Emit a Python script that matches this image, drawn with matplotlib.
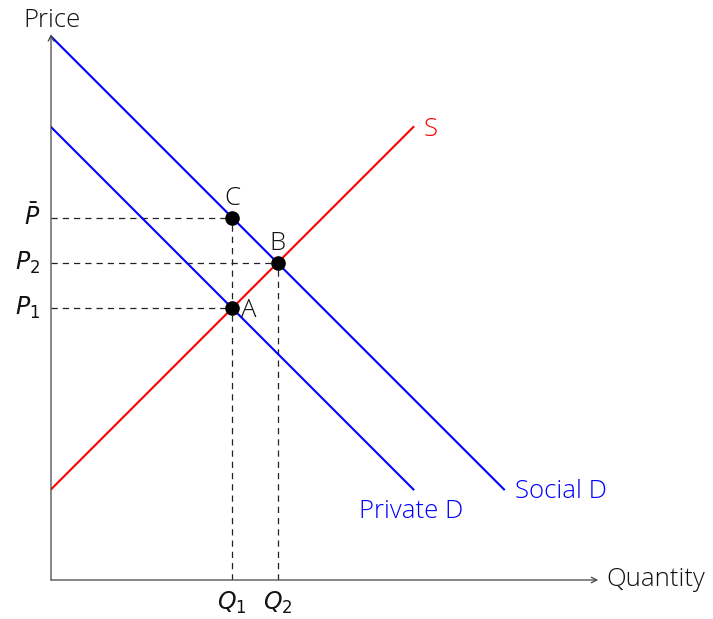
import matplotlib
matplotlib.use("Agg")
import matplotlib.pyplot as plt

plt.rcParams['font.family'] = ['Open Sans', 'DejaVu Sans']
plt.rcParams['mathtext.fontset'] = 'dejavusans'

# Lines (quantity, price endpoints)
supply_q = [0, 8]
supply_p = [2, 10]
private_q = [0, 8]
private_p = [10, 2]
social_q = [0, 10]
social_p = [12, 2]

# Equilibrium points
point_names = ["A", "B", "C"]
point_q = [4, 5, 4]
point_p = [6, 7, 8]

price_ticks = [8, 7, 6]
price_labels = [r"$\bar{P}$", r"$P_2$", r"$P_1$"]
qty_ticks = [4, 5]
qty_labels = [r"$Q_1$", r"$Q_2$"]

FS = 18.5
FM = 17
TXT = "#111111"
fig = plt.figure(figsize=(7.13, 6.19), dpi=100)
ax = fig.add_axes([51/713, 39/619, 543.6/713, 543.6/619])
ax.set_xlim(0, 12)
ax.set_ylim(0, 12)
ax.axis('off')

axis_col = "#444444"
ax.annotate("", xy=(12.08, 0), xytext=(0, 0),
            arrowprops=dict(arrowstyle="->", color=axis_col, lw=0.9, shrinkA=0, shrinkB=0),
            annotation_clip=False)
ax.annotate("", xy=(0, 12.05), xytext=(0, 0),
            arrowprops=dict(arrowstyle="->", color=axis_col, lw=0.9, shrinkA=0, shrinkB=0),
            annotation_clip=False)

ax.text(12.25, 0, "Quantity", ha="left", va="center", fontsize=FS, color=TXT,
        fontweight="light")
ax.text(0.02, 12.36, "Price", ha="center", va="center", fontsize=FS, color=TXT,
        fontweight="light")

# dashed guides
dash = (0, (5, 4))
for q, p in zip(point_q, point_p):
    ax.plot([0, q], [p, p], color="#222222", lw=0.9, ls=dash)
for q in qty_ticks:
    p = max(pp for qq, pp in zip(point_q, point_p) if qq == q)
    ax.plot([q, q], [0, p], color="#222222", lw=0.9, ls=dash)

# curves
ax.plot(supply_q, supply_p, color="#ff0000", lw=1.5)
ax.plot(private_q, private_p, color="#0000ff", lw=1.5)
ax.plot(social_q, social_p, color="#0000ff", lw=1.5)

ax.text(supply_q[1] + 0.22, supply_p[1] - 0.05, "S", color="#ff0000", fontsize=FS,
        ha="left", va="center", fontweight="light")
ax.text(private_q[1] - 0.05, private_p[1] - 0.48, "Private D", color="#0000ff", fontsize=FS,
        ha="center", va="center", fontweight="light")
ax.text(social_q[1] + 0.25, social_p[1] - 0.04, "Social D", color="#0000ff", fontsize=FS,
        ha="left", va="center", fontweight="light")

# points
ax.plot(point_q, point_p, 'o', color="black", ms=9.5, zorder=5)
ax.text(point_q[0] + 0.2, point_p[0] - 0.05, point_names[0], fontsize=FS, ha="left",
        va="center", fontweight="light", color=TXT)
ax.text(point_q[1], point_p[1] + 0.42, point_names[1], fontsize=FS, ha="center",
        va="center", fontweight="light", color=TXT)
ax.text(point_q[2], point_p[2] + 0.42, point_names[2], fontsize=FS, ha="center",
        va="center", fontweight="light", color=TXT)

for p, lab in zip(price_ticks, price_labels):
    ax.text(-0.24, p, lab, fontsize=FM, ha="right", va="center", color=TXT)
for q, lab in zip(qty_ticks, qty_labels):
    ax.text(q, -0.5, lab, fontsize=FM, ha="center", va="center", color=TXT)

fig.savefig("out.png", dpi=100)
